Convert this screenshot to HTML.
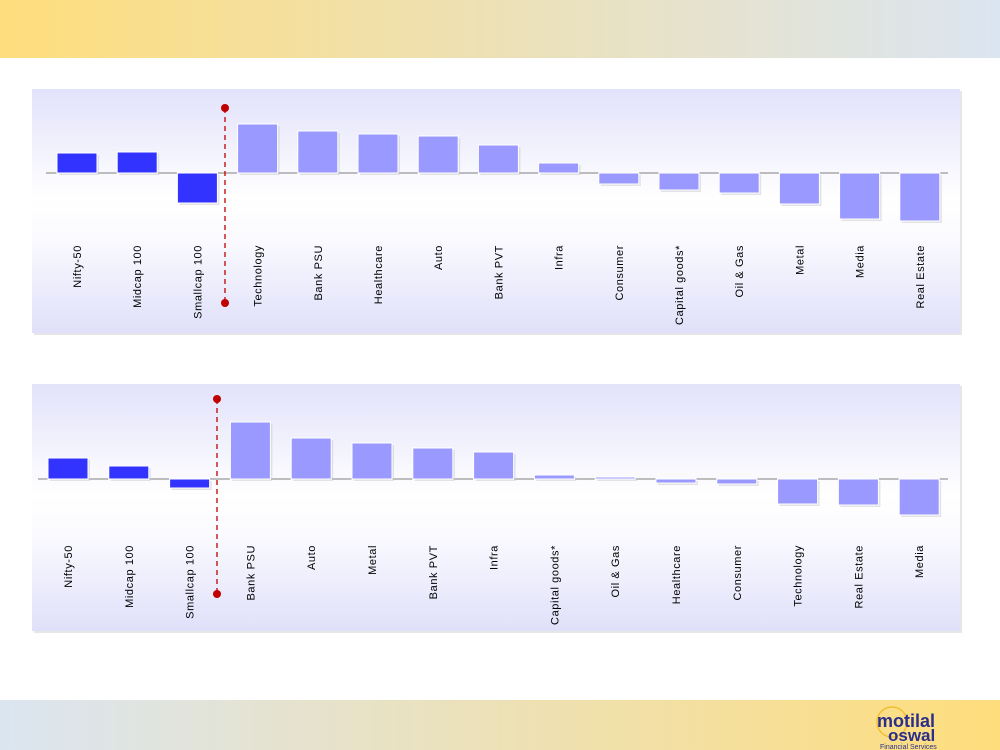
<!DOCTYPE html>
<html><head><meta charset="utf-8"><style>
html,body{margin:0;padding:0;background:#fff;}
svg{display:block;}
text{font-family:"Liberation Sans",sans-serif;}
</style></head><body>
<svg width="1000" height="750" viewBox="0 0 1000 750" xmlns="http://www.w3.org/2000/svg">
<defs>
<linearGradient id="hdr" x1="0" x2="1" y1="0" y2="0"><stop offset="0" stop-color="#fedd7c"/><stop offset="1" stop-color="#dbe5f1"/></linearGradient>
<linearGradient id="ftr" x1="0" x2="1" y1="0" y2="0"><stop offset="0" stop-color="#dbe5f1"/><stop offset="1" stop-color="#fedd7c"/></linearGradient>
<linearGradient id="pan" x1="0" x2="0" y1="0" y2="1"><stop offset="0" stop-color="#e2e2fb"/><stop offset="0.45" stop-color="#ffffff"/><stop offset="0.6" stop-color="#fbfbff"/><stop offset="1" stop-color="#e0e0fa"/></linearGradient>
</defs>
<rect x="0" y="0" width="1000" height="58" fill="url(#hdr)"/>
<rect x="0" y="700" width="1000" height="50" fill="url(#ftr)"/>
<rect x="34" y="91" width="928" height="244" fill="#e6e6e6"/>
<rect x="32" y="89" width="928" height="244" fill="url(#pan)"/>
<rect x="34" y="386" width="928" height="247" fill="#e6e6e6"/>
<rect x="32" y="384" width="928" height="247" fill="url(#pan)"/>
<g id="c1"></g>
<g id="c2"></g>
<g font-family="Liberation Serif,serif" font-weight="bold" fill="#2b2f8a">
<circle cx="892" cy="722" r="15" fill="none" stroke="#f0c030" stroke-width="1.5"/>
<text x="877" y="727" font-size="18">motilal</text>
<text x="888" y="741" font-size="17">oswal</text>
</g>
<text x="880" y="749" font-size="7" fill="#2b2f8a">Financial Services</text>
</svg>
<script>
function chart(id,base,l1,l2,x0,step,data,lblTop,dx,dy1,dy2){
 var g=document.getElementById(id),s='';
 s+='<line x1="'+l1+'" x2="'+l2+'" y1="'+base+'" y2="'+base+'" stroke="#808080" stroke-width="1"/>';
 data.forEach(function(d,i){
  var x=x0+i*step,y=Math.min(base,d[1]),h=Math.abs(d[1]-base),c=i<3?'#3333ff':'#9999ff';
  s+='<rect x="'+(x+2)+'" y="'+(y+2)+'" width="40" height="'+h+'" fill="#c8c8d0" opacity="0.5"/>';
  s+='<rect x="'+x+'" y="'+y+'" width="40" height="'+h+'" fill="'+c+'" stroke="#fff" stroke-width="1"/>';
  var cx=x+24;
  s+='<text transform="translate('+cx+','+(lblTop+2)+') rotate(-90)" text-anchor="end" font-size="11" letter-spacing="0.6" fill="#000">'+d[0]+'</text>';
 });
 s+='<line x1="'+dx+'" x2="'+dx+'" y1="'+dy1+'" y2="'+dy2+'" stroke="#c00000" stroke-width="1.3" stroke-dasharray="5,4"/>';
 s+='<circle cx="'+dx+'" cy="'+dy1+'" r="4" fill="#c00000"/><circle cx="'+dx+'" cy="'+dy2+'" r="4" fill="#c00000"/>';
 g.innerHTML=s;
}
chart('c1',173,46,948,57,60.2,[['Nifty-50',153],['Midcap 100',152],['Smallcap 100',203],['Technology',124],['Bank PSU',131],['Healthcare',134],['Auto',136],['Bank PVT',145],['Infra',163],['Consumer',184],['Capital goods*',190],['Oil &amp; Gas',193],['Metal',204],['Media',219],['Real Estate',221]],243,225,108,303);
chart('c2',479,38,948,48,60.8,[['Nifty-50',458],['Midcap 100',466],['Smallcap 100',488],['Bank PSU',422],['Auto',438],['Metal',443],['Bank PVT',448],['Infra',452],['Capital goods*',475],['Oil &amp; Gas',477],['Healthcare',483],['Consumer',484],['Technology',504],['Real Estate',505],['Media',515]],543,217,399,594);
</script>
</body></html>
